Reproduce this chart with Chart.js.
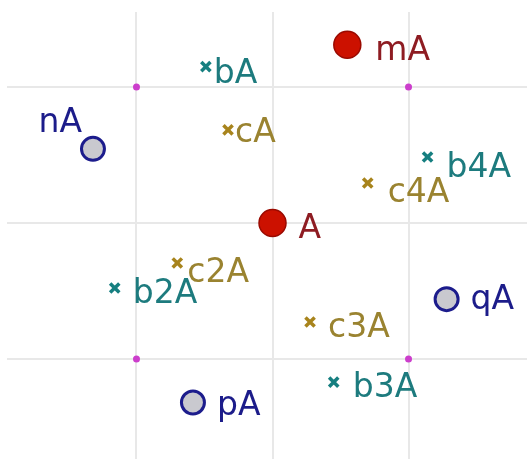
<!DOCTYPE html>
<html>
<head>
<meta charset="utf-8">
<script src="https://cdn.jsdelivr.net/npm/chart.js@4/dist/chart.umd.min.js"></script>
<style>
  html, body { margin: 0; padding: 0; background: #ffffff; }
  #wrap { width: 527px; height: 459px; }
</style>
</head>
<body>
<div id="wrap"><canvas id="c"></canvas></div>
<script>
// ---- data ----
const gridX = [-1, 0, 1];
const gridY = [-1, 0, 1];

const cornerX = [-1, 1, -1, 1];
const cornerY = [1, 1, -1, -1];

const redLabels = ["A", "mA"];
const redX = [0, 0.55];
const redY = [0, 1.31];

const blueLabels = ["nA", "pA", "qA"];
const blueX = [-1.32, -0.585, 1.28];
const blueY = [0.545, -1.32, -0.56];

const tealLabels = ["bA", "b2A", "b3A", "b4A"];
const tealX = [-0.49, -1.16, 0.45, 1.14];
const tealY = [1.15, -0.478, -1.17, 0.485];

const goldLabels = ["cA", "c2A", "c3A", "c4A"];
const goldX = [-0.327, -0.70, 0.276, 0.70];
const goldY = [0.684, -0.294, -0.728, 0.294];

// ---- label placement (style only) ----
const labelPlacement = {
  "A":   { dx: 26,  dy: 15, align: "left" },
  "mA":  { dx: 28,  dy: 15, align: "left" },
  "nA":  { dx: -11, dy: -17, align: "right" },
  "pA":  { dx: 24,  dy: 12, align: "left" },
  "qA":  { dx: 24,  dy: 10, align: "left" },
  "bA":  { dx: 8,   dy: 16, align: "left" },
  "cA":  { dx: 7,   dy: 12, align: "left" },
  "b2A": { dx: 18,  dy: 15, align: "left" },
  "c2A": { dx: 10,  dy: 19, align: "left" },
  "b3A": { dx: 19,  dy: 15, align: "left" },
  "c3A": { dx: 18,  dy: 15, align: "left" },
  "b4A": { dx: 19,  dy: 20, align: "left" },
  "c4A": { dx: 20,  dy: 19, align: "left" }
};

function pts(xs, ys) { return xs.map((x, i) => ({ x: x, y: ys[i] })); }

const labelPlugin = {
  id: "pointLabels",
  afterDatasetsDraw(chart) {
    const ctx = chart.ctx;
    chart.data.datasets.forEach((ds, di) => {
      if (!ds.pointNames) return;
      const meta = chart.getDatasetMeta(di);
      ctx.save();
      ctx.font = '33px "DejaVu Sans", sans-serif';
      ctx.fillStyle = ds.labelColor;
      ctx.textBaseline = "alphabetic";
      meta.data.forEach((el, i) => {
        const name = ds.pointNames[i];
        const p = labelPlacement[name] || { dx: 10, dy: 10, align: "left" };
        ctx.textAlign = p.align;
        ctx.fillText(name, el.x + p.dx, el.y + p.dy);
      });
      ctx.restore();
    });
  }
};

function setTicks(vals) {
  return function (scale) { scale.ticks = vals.map(v => ({ value: v })); };
}

new Chart(document.getElementById("c"), {
  type: "scatter",
  data: {
    datasets: [
      {
        data: pts(cornerX, cornerY),
        pointStyle: "circle", pointRadius: 3.5,
        backgroundColor: "#cc3ecc", borderWidth: 0
      },
      {
        data: pts(goldX, goldY), pointNames: goldLabels, labelColor: "#9a8330",
        pointStyle: "crossRot", pointRadius: 6.5,
        borderColor: "#a8841c", borderWidth: 3.5
      },
      {
        data: pts(tealX, tealY), pointNames: tealLabels, labelColor: "#1d7b7e",
        pointStyle: "crossRot", pointRadius: 6.5,
        borderColor: "#167f80", borderWidth: 3.5
      },
      {
        data: pts(blueX, blueY), pointNames: blueLabels, labelColor: "#1c1c8a",
        pointStyle: "circle", pointRadius: 11.5,
        backgroundColor: "#c9c9cf", borderColor: "#1c1c8c", borderWidth: 3
      },
      {
        data: pts(redX, redY), pointNames: redLabels, labelColor: "#8e1c22",
        pointStyle: "circle", pointRadius: 13.5,
        backgroundColor: "#cc1100", borderColor: "#9a0a00", borderWidth: 1.5
      }
    ]
  },
  options: {
    responsive: true,
    maintainAspectRatio: false,
    animation: false,
    layout: { autoPadding: false, padding: { left: 7, top: 12, right: 0, bottom: 0 } },
    plugins: { legend: { display: false }, tooltip: { enabled: false } },
    scales: {
      x: {
        type: "linear", min: -1.952, max: 1.871,
        afterBuildTicks: setTicks(gridX),
        ticks: { display: false },
        grid: { color: "#e8e8e8", lineWidth: 2, drawTicks: false },
        border: { display: false }
      },
      y: {
        type: "linear", min: -1.735, max: 1.551,
        afterBuildTicks: setTicks(gridY),
        ticks: { display: false },
        grid: { color: "#e8e8e8", lineWidth: 2, drawTicks: false },
        border: { display: false }
      }
    }
  },
  plugins: [labelPlugin]
});
</script>
</body>
</html>
